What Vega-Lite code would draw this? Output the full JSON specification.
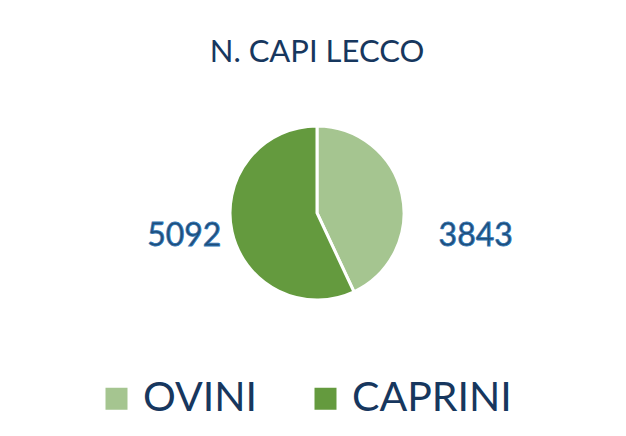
{
  "$schema": "https://vega.github.io/schema/vega-lite/v6.json",
  "autosize": "none",
  "width": 634,
  "height": 240,
  "padding": {"left": 0, "top": 93, "right": 0, "bottom": 103},
  "background": "white",
  "title": {
    "text": "N. CAPI LECCO",
    "font": "Lato",
    "fontSize": 31,
    "fontWeight": "normal",
    "color": "#17375e",
    "anchor": "middle",
    "offset": 24
  },
  "config": {"view": {"stroke": null}},
  "data": {
    "values": [
      {"categoria": "OVINI", "capi": 3843},
      {"categoria": "CAPRINI", "capi": 5092}
    ]
  },
  "encoding": {
    "theta": {"field": "capi", "type": "quantitative", "stack": true},
    "order": {"field": "categoria", "sort": "descending"}
  },
  "layer": [
    {
      "mark": {"type": "arc", "outerRadius": 87, "stroke": "white", "strokeWidth": 3},
      "encoding": {
        "color": {
          "field": "categoria",
          "type": "nominal",
          "sort": ["OVINI", "CAPRINI"],
          "scale": {"domain": ["OVINI", "CAPRINI"], "range": ["#a5c590", "#649a3e"]},
          "legend": {
            "title": null,
            "orient": "none",
            "legendX": 96,
            "legendY": 285,
            "direction": "horizontal",
            "symbolType": "square",
            "symbolSize": 484,
            "symbolStrokeWidth": 0,
            "labelFont": "Lato",
            "labelFontSize": 41,
            "labelColor": "#17375e",
            "labelOffset": 6,
            "columnPadding": 47,
            "labelLimit": 400
          }
        }
      }
    },
    {
      "mark": {"type": "text", "radius": 136, "dy": -7, "font": "Lato", "fontSize": 32, "fill": "#1f4e79", "stroke": "#2e75b6", "strokeWidth": 0.8, "baseline": "middle", "align": "center"},
      "encoding": {
        "text": {
          "condition": {"test": "datum.categoria === 'CAPRINI'", "field": "capi", "type": "quantitative", "format": "d"},
          "value": ""
        }
      }
    },
    {
      "mark": {"type": "text", "radius": 136, "dx": 26, "dy": 53, "font": "Lato", "fontSize": 32, "fill": "#1f4e79", "stroke": "#2e75b6", "strokeWidth": 0.8, "baseline": "middle", "align": "center"},
      "encoding": {
        "text": {
          "condition": {"test": "datum.categoria === 'OVINI'", "field": "capi", "type": "quantitative", "format": "d"},
          "value": ""
        }
      }
    }
  ]
}
